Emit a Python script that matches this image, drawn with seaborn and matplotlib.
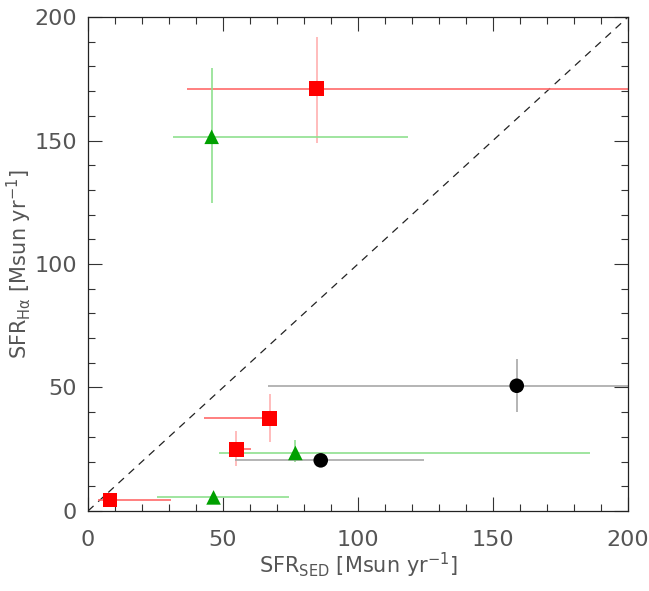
import numpy as np
import pandas as pd
import matplotlib
matplotlib.use("Agg")
import matplotlib.pyplot as plt
import seaborn as sns

# SFR values (x = SED, y = H-alpha)
groups = ["red", "red", "red", "red", "green", "green", "green", "black", "black"]
sfr_sed = [8.1, 54.9, 67.3, 84.7, 45.8, 76.8, 46.5, 86.2, 158.8]
sfr_ha = [4.5, 25.0, 37.5, 171.0, 151.5, 23.5, 5.5, 20.5, 50.7]
sed_lo = [3.8, 53.2, 43.0, 36.7, 31.4, 48.5, 25.6, 54.6, 66.7]
sed_hi = [30.7, 60.2, 67.3, 200.0, 118.4, 186.0, 74.6, 124.6, 200.0]
ha_lo = [4.5, 18.3, 28.1, 148.9, 124.6, 20.0, 5.5, 20.5, 40.2]
ha_hi = [4.5, 32.4, 47.2, 192.1, 179.2, 28.7, 5.5, 20.5, 61.4]

df = pd.DataFrame({"group": groups, "sed": sfr_sed, "ha": sfr_ha,
                   "sed_lo": sed_lo, "sed_hi": sed_hi, "ha_lo": ha_lo, "ha_hi": ha_hi})

sns.set_style("ticks")
plt.rcParams["font.family"] = ["DejaVu Sans"]

fig = plt.figure(figsize=(6.49, 5.91), dpi=100)
ax = fig.add_axes([0.1356, 0.1354, 0.8320, 0.8358])

xerr_col = {"red": "#ff6a6a", "green": "#8fe08f", "black": "#a8a8a8"}
yerr_col = {"red": "#ffb0b0", "green": "#8fe08f", "black": "#a8a8a8"}
for _, r in df.iterrows():
    ax.hlines(r["ha"], r["sed_lo"], r["sed_hi"], color=xerr_col[r["group"]], lw=1.2, zorder=2)
    if r["ha_hi"] > r["ha_lo"]:
        ax.vlines(r["sed"], r["ha_lo"], r["ha_hi"], color=yerr_col[r["group"]], lw=1.2, zorder=2)

ax.plot([0, 200], [0, 200], ls=(0, (6, 5)), color="#222222", lw=0.9, zorder=1)

sns.scatterplot(data=df, x="sed", y="ha", hue="group", style="group",
                palette={"red": "#ff0000", "green": "#00a000", "black": "#000000"},
                markers={"red": "s", "green": "^", "black": "o"},
                s=110, linewidth=0, legend=False, ax=ax, zorder=3)

ax.set_xlim(0, 200)
ax.set_ylim(0, 200)
ax.set_xticks(np.arange(0, 201, 50))
ax.set_yticks(np.arange(0, 201, 50))
ax.set_xticks(np.arange(0, 201, 10), minor=True)
ax.set_yticks(np.arange(0, 201, 10), minor=True)
ax.tick_params(which="both", direction="in", top=True, right=True,
               color="#333333", width=0.8, labelcolor="#555555", labelsize=16)
ax.tick_params(which="major", length=10)
ax.tick_params(axis="x", which="major", pad=14)
ax.tick_params(axis="y", which="major", pad=8)
ax.tick_params(which="minor", length=5)
for sp in ax.spines.values():
    sp.set_visible(True)
    sp.set_color("#222222")
    sp.set_linewidth(0.9)

ax.set_xlabel(r"SFR$_{\rm SED}$ [Msun yr$^{-1}$]", fontsize=15, color="#555555")
ax.set_ylabel(r"SFR$_{\rm H\alpha}$ [Msun yr$^{-1}$]", fontsize=15, color="#555555")
ax.xaxis.set_label_coords(0.5, -0.11)
ax.yaxis.set_label_coords(-0.127, 0.5)
ax.xaxis.label.set_va("center")
ax.yaxis.label.set_va("center")

fig.savefig("out.png", dpi=100)
